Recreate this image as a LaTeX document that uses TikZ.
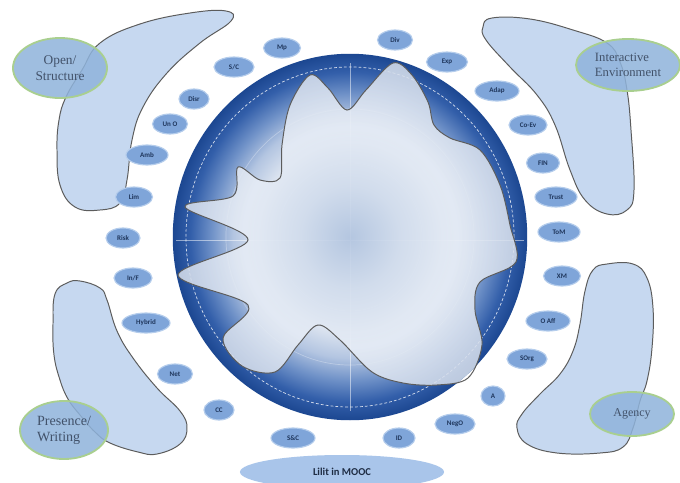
\documentclass[tikz,border=0pt]{standalone}
\usepackage{fontspec}
\setmainfont{Liberation Serif}
\newfontfamily\tagfont{Carlito}
\usetikzlibrary{shapes.geometric}
\definecolor{padfill}{HTML}{C6D8F0}
\definecolor{padline}{HTML}{5C5C5C}
\definecolor{bigfill}{HTML}{8FB3DB}
\definecolor{biggreen}{HTML}{A9CF8F}
\definecolor{bigtext}{HTML}{42526A}
\definecolor{tagfill}{HTML}{7FA5D9}
\definecolor{tagedge}{HTML}{B5CDEC}
\definecolor{tagtext}{HTML}{1F365C}
\definecolor{lilitfill}{HTML}{A9C5EA}
\definecolor{lilitdark}{HTML}{1F2D44}
\definecolor{gcore}{HTML}{AEC1DE}
\definecolor{gsoft}{HTML}{C8D5E9}
\definecolor{glight}{HTML}{DCE4F0}
\definecolor{gpale}{HTML}{B3C5E1}
\definecolor{gmid}{HTML}{7092C8}
\definecolor{gdark}{HTML}{335FAA}
\definecolor{gdeep}{HTML}{1C4791}
\definecolor{bcore}{HTML}{B5C7E1}
\definecolor{bsoft}{HTML}{D2DDED}
\definecolor{blight}{HTML}{E7EDF6}
\definecolor{bedge}{HTML}{D3DCEA}
\pgfdeclareradialshading{ringshade}{\pgfpoint{0bp}{0bp}}{color(0bp)=(gcore);
  color(6bp)=(gsoft); color(13bp)=(glight); color(16.5bp)=(gpale);
  color(19.5bp)=(gmid); color(22.5bp)=(gdark); color(25bp)=(gdeep); color(50bp)=(gdeep)}
\pgfdeclareradialshading{blobshade}{\pgfpoint{0bp}{0bp}}{color(0bp)=(bcore);
  color(7bp)=(bsoft); color(15bp)=(blight); color(25bp)=(bedge); color(50bp)=(bedge)}

\begin{document}
\begin{tikzpicture}[x=0.025cm,y=-0.025cm,
  pad/.style={draw=padline,line width=0.7pt,fill=padfill},
  big/.style={ellipse,draw=biggreen,line width=1.3pt,fill=bigfill,
    fill opacity=.85,text opacity=1,text=bigtext,inner sep=0pt},
  tag/.style={ellipse,draw=tagedge,line width=0.8pt,fill=tagfill,
    text=tagtext,inner sep=0pt,minimum height=0.5cm,
    font=\tagfont\bfseries\fontsize{5}{6}\selectfont},
  lilit/.style={ellipse,fill=lilitfill,text=lilitdark,inner sep=0pt,
    font=\tagfont\bfseries\fontsize{7.5}{9}\selectfont},
  grid/.style={white,line width=0.5pt},
  outline/.style={draw=padline,line width=0.7pt}]

  \useasboundingbox[fill=white] (0,0) rectangle (680,482);

  \draw[pad] plot[smooth cycle,tension=0.7] coordinates {(100,43) (140,24)
    (190,13) (226,11) (231,21) (200,43) (167,73) (143,107) (132,140)
    (127,180) (120,203) (100,210) (75,207) (60,185) (57,150) (59,120)
    (66,97) (82,70)};
  \draw[pad] plot[smooth cycle,tension=0.7] coordinates {(483,27) (492,18)
    (530,19) (573,30) (607,43) (620,62) (627,90) (631,130) (634,190)
    (627,210) (607,214) (585,200) (570,170) (555,125) (537,95) (510,67)
    (486,40)};
  \draw[pad] plot[smooth cycle,tension=0.7] coordinates {(67,283) (80,281)
    (100,288) (107,300) (117,331) (133,358) (157,388) (180,411) (187,428)
    (180,444) (157,454) (138,452) (110,443) (95,432) (80,415) (68,399)
    (60,380) (54,355) (53,324) (55,294)};
  \draw[pad] plot[smooth cycle,tension=0.7] coordinates {(607,264) (633,264)
    (647,278) (653,308) (652,348) (647,381) (640,401) (633,428) (623,447)
    (600,453) (557,453) (527,444) (517,428) (522,414) (540,394) (560,374)
    (573,351) (580,324) (585,291) (593,270)};

  \node[big,minimum width=2.35cm,minimum height=1.5cm,align=center,
    font=\fontsize{9.5}{11}\selectfont] (open) at (60,68) {Open/\\Structure};
  \node[big,minimum width=2.6cm,minimum height=1.3cm,align=left,
    font=\fontsize{9}{10.5}\selectfont] (inter) at (628,65)
    {Interactive\\Environment};
  \node[big,minimum width=2.2cm,minimum height=1.45cm,align=left,
    font=\fontsize{10}{11.5}\selectfont] (pres) at (64,430) {Presence/\\Writing};
  \node[big,minimum width=2.1cm,minimum height=1.1cm,
    font=\fontsize{8.5}{10}\selectfont] (agency) at (632,414) {Agency};

  \coordinate (c) at (350,237);
  \shade[shading=ringshade] (c) ellipse[x radius=4.43cm,y radius=4.58cm];
  \draw[grid,opacity=.8,dash pattern=on 2pt off 1.5pt]
    (c) ellipse[x radius=4.1cm,y radius=4.25cm];
  \draw[grid,opacity=.3] (c) ellipse[x radius=3.1cm,y radius=3.2cm];
  \draw[grid,opacity=.3] (c) ellipse[x radius=1.8cm,y radius=1.85cm];
  \draw[grid,opacity=.5] (350,63) -- (350,411) (176,240) -- (524,240);

  \draw[outline,path picture={\shade[shading=blobshade,opacity=.88]
    (c) ellipse[x radius=4.43cm,y radius=4.58cm];}]
    plot[smooth cycle,tension=0.55] coordinates {(310,75) (328,88)
    (347,110) (366,90) (393,63) (412,75) (428,102) (434,125) (450,138)
    (480,150) (500,185) (510,225) (516,262) (480,282) (475,310) (482,345)
    (468,378) (437,385) (403,383) (372,372) (340,340) (318,325) (298,345)
    (275,372) (242,366) (223,338) (248,305) (178,275) (248,240) (185,207)
    (233,196) (238,167) (260,180) (280,178) (282,145) (290,105)};

  \foreach \n/\x/\y/\w/\t in {
    mp/282/48/37/Mp, sc/234/67/40/{S/C}, disr/194/99/30/Disr,
    uno/170/124/35/Un O, amb/147/155/42/Amb, lim/134/197/37/Lim,
    risk/123/238/34/Risk, inf/133/278/38/{In/F}, hybrid/146/323/48/Hybrid,
    net/175/374/35/Net, cc/219/410/30/CC, snc/293/438/44/{S\&C},
    id/399/438/32/ID, nego/455/424/40/NegO, a/493/396/24/A,
    sorg/527/359/40/SOrg, oaff/548/321/44/O Aff, xm/562/276/37/XM,
    tom/559/232/42/ToM, trust/556/197/42/Trust, fin/543/163/33/FIN,
    coev/528/125/38/Co-Ev, adap/497/91/44/Adap, exp/447/62/41/Exp,
    div/395/40/35/Div}
    \node[tag,minimum width=\w*0.025cm] (\n) at (\x,\y) {\t};

  \node[lilit,minimum width=5.1cm,minimum height=0.85cm] (mooc) at (342,472)
    {Lilit in MOOC};
\end{tikzpicture}
\end{document}
